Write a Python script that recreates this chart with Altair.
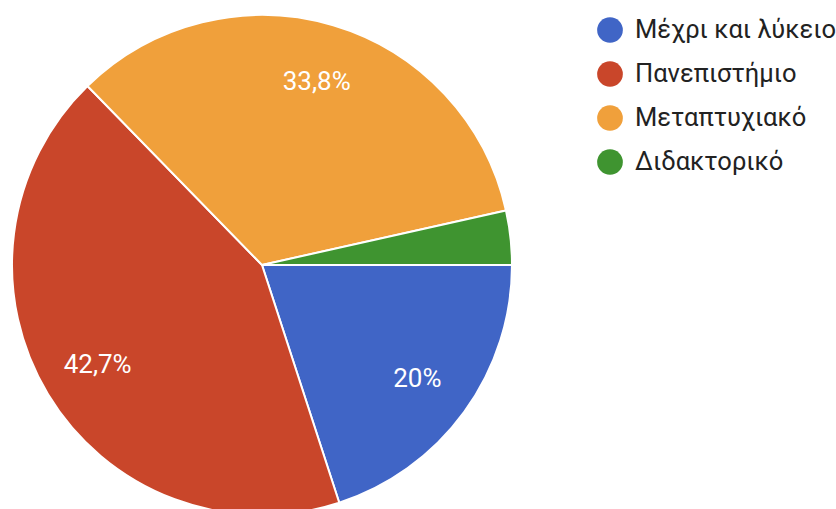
import math
import altair as alt
import pandas as pd

categories = ["Μέχρι και λύκειο", "Πανεπιστήμιο", "Μεταπτυχιακό", "Διδακτορικό"]
values = [20.0, 42.7, 33.8, 3.5]
labels = ["20%", "42,7%", "33,8%", ""]
colors = ["#4065c6", "#c9462a", "#f0a03b", "#3f9430"]

df = pd.DataFrame({"cat": categories, "val": values, "lab": labels, "ord": list(range(len(categories)))})

theta_scale = alt.Scale(range=[math.pi / 2, math.pi / 2 + 2 * math.pi])

base = alt.Chart(df).encode(
    theta=alt.Theta("val:Q", stack=True, scale=theta_scale),
    order=alt.Order("ord:Q"),
)

pie = base.mark_arc(outerRadius=250, stroke="white", strokeWidth=2).encode(
    x=alt.value(262),
    y=alt.value(265),
    color=alt.Color(
        "cat:N",
        scale=alt.Scale(domain=categories, range=colors),
        sort=categories,
        legend=alt.Legend(
            title=None,
            orient="none",
            legendX=597,
            legendY=17,
            symbolType="circle",
            symbolSize=660,
            symbolStrokeWidth=0,
            labelFont="Roboto",
            labelFontSize=25.5,
            labelColor="#222222",
            labelOffset=12,
            labelLimit=300,
            rowPadding=17,
            padding=0,
        ),
    ),
)

text = base.mark_text(radius=192, font="Roboto", fontSize=26, color="white").encode(
    x=alt.value(262),
    y=alt.value(266),
    text="lab:N",
)

chart = (
    alt.layer(pie, text)
    .properties(width=836, height=509, padding=0, autosize=alt.AutoSizeParams(type="none"))
    .configure_view(stroke=None)
)

chart.save("out.html", embed_options={"renderer": "svg", "actions": False})
